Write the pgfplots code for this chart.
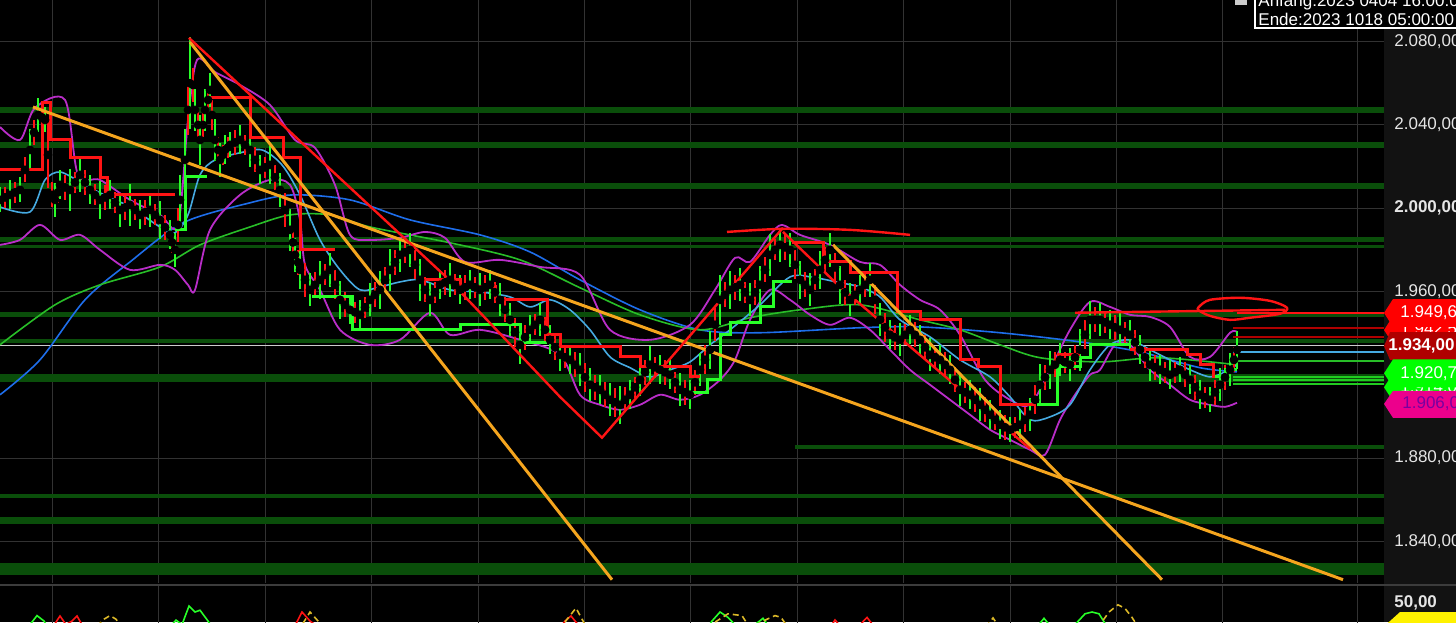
\documentclass[border=0pt]{standalone}
\usepackage{pgfplots}
\usepackage{pgfplotstable}
\pgfplotsset{compat=1.18}
\usepackage{fontspec}
\setmainfont{Liberation Sans}
\definecolor{bandgreen}{RGB}{10,78,10}
\definecolor{cgreen}{RGB}{40,255,40}
\definecolor{cred}{RGB}{255,20,20}
\definecolor{bbpurple}{RGB}{185,45,200}
\definecolor{mablue}{RGB}{30,110,235}
\definecolor{magreen}{RGB}{40,190,40}
\definecolor{macyan}{RGB}{70,170,225}
\definecolor{trorange}{RGB}{245,165,30}
\definecolor{gridgray}{RGB}{50,50,50}
\definecolor{labelbg}{RGB}{18,18,18}
\definecolor{darkred}{RGB}{176,0,0}
\definecolor{yel}{RGB}{220,185,40}
\definecolor{sepgray}{RGB}{60,60,60}
\definecolor{magtext}{RGB}{120,0,160}

\pgfplotstableread{
x y e
0 2004.0 6
10 2006.4 7
20 2008.8 6
30 2028.0 10
38 2044.8 8
45 2042.4 6
55 2004.0 8
60 2011.2 7
70 2008.8 10
80 2016.0 8
90 2008.8 7
100 2004.0 9
110 2006.4 7
120 1999.2 8
130 2001.6 10
140 1996.8 7
150 1999.2 8
160 1994.4 9
170 1987.2 7
175 1980.0 8
180 2004.0 12
185 2023.2 15
190 2060.0 22
195 2047.2 10
200 2032.8 12
205 2047.2 10
210 2056.8 8
215 2032.8 10
220 2023.2 8
225 2028.0 7
230 2030.4 6
240 2032.8 7
250 2028.0 8
260 2018.4 7
270 2020.8 9
280 2008.8 8
290 1989.6 10
295 1977.6 8
300 1970.4 9
310 1960.8 8
320 1965.6 9
330 1970.4 8
340 1956.0 9
350 1951.2 7
360 1948.8 7
370 1956.0 8
380 1960.8 9
390 1970.4 10
400 1977.6 8
410 1980.0 8
420 1965.6 10
430 1956.0 8
440 1963.2 7
450 1965.6 8
460 1960.8 7
470 1963.2 7
480 1960.8 8
490 1963.2 7
500 1956.0 8
510 1946.4 8
520 1934.4 9
530 1941.6 7
540 1946.4 8
550 1936.8 7
560 1929.6 8
570 1927.2 7
580 1922.4 8
590 1915.2 8
600 1912.8 7
610 1908.0 8
620 1905.6 9
630 1910.4 7
640 1917.6 8
650 1924.8 9
660 1922.4 7
670 1920.0 7
680 1912.8 8
690 1910.4 7
700 1922.4 8
710 1932.0 9
720 1956.0 12
730 1960.8 9
740 1963.2 8
750 1956.0 8
760 1963.2 9
770 1977.6 10
780 1982.4 8
790 1980.0 8
800 1965.6 9
810 1960.8 8
820 1970.4 9
830 1980.0 8
840 1963.2 9
850 1956.0 8
860 1960.8 7
870 1965.6 8
880 1946.4 8
890 1939.2 7
900 1936.8 8
910 1941.6 7
920 1936.8 7
930 1929.6 8
940 1927.2 7
950 1922.4 7
960 1912.8 8
970 1910.4 7
980 1905.6 8
990 1900.8 7
1000 1896.0 7
1010 1893.6 6
1020 1896.0 7
1030 1900.8 8
1040 1915.2 10
1050 1922.4 9
1060 1927.2 8
1070 1924.8 8
1080 1932.0 10
1090 1946.4 9
1100 1946.4 8
1110 1944.0 7
1120 1941.6 8
1130 1939.2 7
1140 1932.0 7
1150 1924.8 8
1160 1922.4 7
1170 1920.0 7
1180 1922.4 6
1190 1917.6 7
1200 1910.4 7
1210 1908.0 6
1220 1915.2 8
1230 1922.4 8
1237 1932.0 9
}\greencandles

\pgfplotstableread{
x y e
5 2005.2 5
15 2007.6 5
25 2018.4 6
34 2036.4 6
42 2043.6 5
48 2025.6 16
52 2006.4 6
58 2007.6 5
65 2010.0 6
75 2012.4 5
85 2012.4 6
95 2006.4 5
105 2005.2 6
115 2002.8 5
125 2000.4 6
135 1999.2 5
145 1998.0 6
155 1996.8 5
165 1990.8 6
172 1983.6 5
178 1992.0 8
188 2047.2 12
193 2059.2 8
198 2040.0 7
203 2040.0 6
208 2052.0 6
212 2044.8 7
218 2028.0 6
223 2025.6 5
228 2029.2 5
235 2031.6 6
245 2030.4 5
255 2023.2 6
265 2019.6 5
275 2014.8 6
285 1999.2 8
293 1983.6 6
298 1974.0 6
305 1965.6 8
315 1963.2 6
325 1968.0 5
335 1963.2 7
345 1953.6 6
355 1950.0 5
365 1952.4 5
375 1958.4 6
385 1965.6 6
395 1974.0 6
405 1978.8 5
415 1972.8 7
425 1960.8 6
435 1959.6 5
445 1964.4 6
455 1963.2 5
465 1962.0 6
475 1962.0 5
485 1962.0 6
495 1959.6 5
505 1951.2 6
515 1940.4 7
525 1938.0 6
535 1944.0 5
545 1941.6 6
555 1933.2 6
565 1928.4 5
575 1924.8 6
585 1918.8 7
595 1914.0 6
605 1910.4 6
615 1906.8 7
625 1908.0 6
635 1914.0 5
645 1921.2 6
655 1923.6 5
665 1921.2 6
675 1916.4 5
685 1911.6 6
695 1916.4 6
705 1927.2 7
715 1944.0 8
725 1958.4 6
735 1962.0 6
745 1959.6 5
755 1959.6 6
765 1970.4 6
775 1980.0 5
785 1981.2 6
795 1972.8 7
805 1963.2 6
815 1965.6 5
825 1975.2 6
835 1971.6 7
845 1959.6 6
855 1958.4 5
865 1963.2 6
875 1956.0 7
885 1942.8 7
895 1938.0 6
905 1939.2 5
915 1939.2 6
925 1933.2 6
935 1928.4 5
945 1924.8 6
955 1917.6 6
965 1911.6 5
975 1908.0 6
985 1903.2 6
995 1898.4 5
1005 1894.8 6
1015 1894.8 5
1025 1898.4 6
1035 1908.0 7
1045 1918.8 6
1055 1924.8 6
1065 1926.0 5
1075 1928.4 6
1085 1939.2 7
1095 1946.4 6
1105 1945.2 5
1115 1942.8 6
1125 1940.4 5
1135 1935.6 6
1145 1928.4 5
1155 1923.6 6
1165 1921.2 5
1175 1921.2 5
1185 1920.0 6
1195 1914.0 6
1205 1909.2 5
1215 1911.6 6
1225 1918.8 6
1234 1927.2 6
}\redcandles

\begin{document}
\begin{tikzpicture}
\path[use as bounding box] (0,0) rectangle (728pt,-311pt);
\fill[black] (0,0) rectangle (728pt,-311pt);
\fill[labelbg] (692pt,0) rectangle (728pt,-311pt);

\begin{axis}[
  at={(0pt,0pt)}, anchor=north west,
  width=692pt, height=291.5pt, scale only axis,
  xmin=0, xmax=1384, ymin=1820, ymax=2100,
  clip=false,
  axis line style={draw=none},
  major tick length=0pt,
  xtick={52,158,265,371,478,584,690,797,903,1010,1116,1222,1357},
  xticklabels={},
  ytick={1840,1880,1920,1960,2000,2040,2080},
  yticklabels={{1.840,00},{1.880,00},{},{1.960,00},{\bfseries 2.000,00},{2.040,00},{2.080,00}},
  yticklabel pos=right,
  yticklabel style={anchor=west, inner sep=0pt, xshift=5pt, text=white!90!black, font=\fontsize{8.5}{10}\selectfont},
  grid=major, grid style={gridgray, line width=0.5pt},
]
% support / resistance bands
\addplot[bandgreen, line width=3pt] coordinates {(0,2047.2)(1384,2047.2)};
\addplot[bandgreen, line width=3pt] coordinates {(0,2030.4)(1384,2030.4)};
\addplot[bandgreen, line width=3pt] coordinates {(0,2010.7)(1384,2010.7)};
\addplot[bandgreen, line width=2.5pt] coordinates {(0,1985.0)(1384,1985.0)};
\addplot[bandgreen, line width=1.5pt] coordinates {(0,1981.6)(1384,1981.6)};
\addplot[bandgreen, line width=2.5pt] coordinates {(0,1948.9)(1384,1948.9)};
\addplot[bandgreen, line width=2pt] coordinates {(0,1936.0)(1384,1936.0)};
\addplot[bandgreen, line width=4pt] coordinates {(0,1918.6)(1384,1918.6)};
\addplot[bandgreen, line width=2pt] coordinates {(795,1885.3)(1384,1885.3)};
\addplot[bandgreen, line width=2pt] coordinates {(0,1861.8)(1384,1861.8)};
\addplot[bandgreen, line width=3.5pt] coordinates {(0,1850.0)(1384,1850.0)};
\addplot[bandgreen, line width=6pt] coordinates {(0,1826.7)(1384,1826.7)};
% current price line
\addplot[white!80!black, line width=0.7pt] coordinates {(0,1934.0)(1384,1934.0)};

% moving averages
\addplot[mablue, line width=0.8pt, smooth] coordinates {(0,1910.4)(40,1927.2)(85,1956.0)(130,1974.2)(183,1993.0)(250,2002.6)(293,2006.4)(350,2004.0)(410,1994.4)(480,1987.2)(530,1979.0)(580,1965.6)(640,1951.2)(700,1941.6)(760,1940.2)(860,1942.6)(920,1943.0)(1000,1940.2)(1080,1935.8)(1140,1931.0)(1200,1923.4)(1237,1921.4)};
\addplot[magreen, line width=0.8pt, smooth] coordinates {(0,1934.4)(55,1953.6)(100,1963.2)(160,1971.8)(200,1982.4)(250,1991.0)(290,1996.8)(330,1996.8)(370,1991.0)(450,1983.4)(520,1975.2)(580,1961.8)(640,1948.8)(700,1941.6)(750,1947.4)(800,1951.2)(860,1953.6)(920,1946.4)(960,1941.6)(1000,1934.4)(1040,1928.2)(1100,1926.2)(1160,1928.2)(1237,1924.8)};
% Bollinger bands
\addplot[bbpurple, line width=0.9pt, smooth] coordinates {(0,2039.0)(20,2032.8)(35,2048.2)(65,2052.0)(78,2016.0)(100,2013.6)(130,2004.0)(160,1996.8)(178,1992.0)(188,2042.4)(197,2071.2)(215,2065.4)(240,2059.2)(270,2049.6)(295,2032.8)(315,2029.0)(335,2011.2)(350,1987.2)(370,1984.8)(400,1985.8)(425,1988.6)(445,1985.8)(465,1974.2)(500,1975.2)(540,1971.8)(580,1968.0)(610,1941.6)(650,1936.8)(690,1944.0)(715,1960.8)(735,1976.2)(750,1974.2)(770,1987.2)(782,1992.0)(800,1987.2)(830,1982.4)(860,1974.2)(880,1972.8)(900,1963.2)(920,1956.0)(940,1951.2)(960,1939.2)(985,1917.6)(1010,1908.0)(1030,1905.6)(1050,1922.4)(1070,1941.6)(1090,1955.0)(1110,1952.6)(1130,1948.8)(1150,1947.8)(1170,1943.0)(1190,1928.6)(1210,1928.6)(1230,1940.2)(1237,1940.6)};
\addplot[bbpurple, line width=0.9pt, smooth] coordinates {(0,1982.4)(20,1984.8)(40,1992.0)(60,1984.8)(80,1987.2)(100,1980.0)(130,1970.4)(160,1972.8)(175,1970.4)(188,1963.2)(195,1960.8)(210,1989.6)(240,2006.4)(270,2013.6)(290,2011.2)(300,1994.4)(305,1972.8)(320,1960.8)(340,1941.6)(370,1934.4)(400,1936.8)(430,1949.8)(450,1939.2)(480,1941.6)(520,1936.8)(560,1929.6)(580,1910.4)(600,1905.6)(620,1903.2)(640,1905.6)(660,1910.4)(680,1908.0)(700,1910.4)(720,1917.6)(735,1927.2)(750,1946.4)(770,1960.8)(790,1956.0)(810,1948.8)(830,1944.0)(850,1947.4)(870,1941.6)(890,1932.0)(910,1922.4)(930,1915.2)(950,1908.0)(970,1900.8)(990,1893.6)(1010,1888.8)(1030,1884.0)(1045,1881.6)(1060,1898.4)(1075,1910.4)(1090,1920.0)(1100,1922.4)(1115,1934.4)(1130,1934.4)(1150,1922.4)(1170,1915.2)(1190,1908.0)(1210,1905.6)(1225,1904.6)(1237,1906.6)};
% fast MA
\addplot[macyan, line width=0.8pt, smooth] coordinates {(0,2000.6)(30,1998.2)(45,2013.6)(60,2017.4)(80,2012.6)(100,2007.4)(130,2000.6)(160,1991.0)(175,1988.2)(188,1996.8)(200,2016.0)(215,2023.2)(240,2026.6)(262,2028.0)(282,2020.8)(300,2006.4)(320,1984.8)(340,1970.4)(360,1960.8)(380,1962.2)(400,1964.6)(420,1965.6)(450,1960.8)(480,1959.8)(510,1957.4)(530,1952.6)(550,1956.0)(570,1951.2)(590,1941.6)(610,1928.6)(630,1923.4)(650,1919.0)(670,1922.4)(690,1926.2)(710,1934.4)(730,1941.6)(760,1953.6)(790,1967.0)(815,1966.6)(840,1964.2)(860,1962.2)(880,1957.4)(900,1946.4)(930,1938.2)(960,1927.2)(990,1919.0)(1010,1909.4)(1030,1898.4)(1050,1899.8)(1070,1905.6)(1090,1922.4)(1110,1934.4)(1130,1936.8)(1150,1932.0)(1170,1927.2)(1190,1922.4)(1210,1919.0)(1225,1921.4)(1237,1924.8)};

% candles
\addplot[only marks, mark=none, error bars/.cd, y dir=both, y explicit, error mark=none, error bar style={draw=cred, line width=0.75pt}] table[x=x, y=y, y error=e] {\redcandles};
\addplot[only marks, mark=none, error bars/.cd, y dir=both, y explicit, error mark=none, error bar style={draw=cgreen, line width=0.75pt}] table[x=x, y=y, y error=e] {\greencandles};

% step lines
\addplot[cred, line width=1.5pt, const plot] coordinates {(0,2018.4)(42,2051.0)(50,2032.8)(70,2024.2)(100,2014.6)(107,2006.4)(175,2006.4)};
\addplot[cgreen, line width=1.5pt, const plot] coordinates {(175,1989.6)(185,2015.0)(207,2015.0)};
\addplot[cred, line width=1.5pt, const plot] coordinates {(207,2053.0)(250,2033.8)(283,2024.2)(300,1980.0)(335,1980.0)};
\addplot[cgreen, line width=1.5pt, const plot] coordinates {(312,1957.4)(352,1941.6)(460,1944.0)(520,1935.4)(547,1935.4)};
\addplot[cred, line width=1.5pt, const plot] coordinates {(420,1965.6)(460,1962.2)(495,1956.0)(547,1939.2)(560,1933.4)(620,1928.6)(640,1923.8)(690,1919.0)(700,1919.0)};
\addplot[cgreen, line width=1.5pt, const plot] coordinates {(687,1911.4)(707,1917.6)(720,1939.2)(730,1945.0)(760,1952.6)(773,1964.6)(792,1964.6)};
\addplot[cred, line width=1.5pt, const plot] coordinates {(792,1983.4)(823,1974.2)(850,1969.0)(897,1950.2)(920,1946.4)(960,1927.2)(978,1923.8)(1000,1905.6)(1035,1905.6)};
\addplot[cgreen, line width=1.5pt, const plot] coordinates {(1037,1905.6)(1057,1923.8)(1080,1928.2)(1090,1934.4)(1130,1934.4)};
\addplot[cred, line width=1.5pt, const plot] coordinates {(1057,1929.6)(1080,1929.6)};
\addplot[cred, line width=1.5pt, const plot] coordinates {(1130,1932.0)(1187,1929.6)(1200,1924.8)(1213,1919.0)(1220,1919.0)};
\addplot[cgreen, line width=1.5pt, const plot] coordinates {(1215,1919.0)(1225,1922.4)(1237,1922.4)};

% trend lines
\addplot[trorange, line width=1.5pt] coordinates {(33,2048.6)(1343,1821.6)};
\addplot[trorange, line width=1.5pt] coordinates {(190,2079.8)(612,1821.6)};
\addplot[trorange, line width=1.5pt] coordinates {(833,1982.4)(1162,1821.6)};
\addplot[cred, line width=1.2pt] coordinates {(189,2081.8)(447,1966.6)(560,1909.4)(602,1889.8)(783,1990.6)};
\addplot[cred, line width=1.2pt] coordinates {(783,1988.6)(840,1962.2)(1030,1884.5)};
\addplot[cred, line width=1.2pt, smooth] coordinates {(727,1988.6)(783,1990.1)(850,1989.6)(910,1987.2)};
\addplot[cred, line width=1.2pt] coordinates {(1075,1949.8)(1285,1951.2)};
\addplot[cred, line width=1.2pt, smooth] coordinates {(1200,1953.1)(1210,1956.0)(1240,1957.0)(1270,1955.5)(1287,1952.2)(1280,1949.3)(1250,1947.4)(1230,1946.4)(1210,1948.3)(1198,1951.2)(1200,1953.1)};

% current levels at right
\addplot[cred, line width=1pt] coordinates {(1237,1949.6)(1384,1949.6)};
\addplot[darkred, line width=1pt] coordinates {(1233,1942.6)(1384,1942.6)};
\addplot[darkred, line width=1pt] coordinates {(1233,1938.2)(1384,1938.2)};
\addplot[macyan, line width=1pt] coordinates {(1233,1931.0)(1384,1931.0)};
\addplot[magreen, line width=1pt] coordinates {(1233,1926.6)(1384,1926.6)};
\addplot[cgreen!80!black, line width=1pt] coordinates {(1233,1919.0)(1384,1919.0)};
\addplot[cgreen!80!black, line width=1pt] coordinates {(1233,1917.6)(1384,1917.6)};
\addplot[cgreen!80!black, line width=1pt] coordinates {(1233,1915.6)(1384,1915.6)};

% price labels on the right
\fill[red] (axis cs:1384,1941.5) -- (axis cs:1393,1948.2) -- (axis cs:1470,1948.2) -- (axis cs:1470,1934.8) -- (axis cs:1393,1934.8) -- cycle;
\node[anchor=west, inner sep=0pt, text=white, font=\fontsize{8.5}{10}\selectfont] at (axis cs:1400,1941.5) {1.942,5};
\fill[red] (axis cs:1384,1949.7) -- (axis cs:1393,1956.4) -- (axis cs:1470,1956.4) -- (axis cs:1470,1943.0) -- (axis cs:1393,1943.0) -- cycle;
\node[anchor=west, inner sep=0pt, text=white, font=\fontsize{8.5}{10}\selectfont] at (axis cs:1400,1949.7) {1.949,6};
\fill[darkred] (axis cs:1384,1933.8) -- (axis cs:1390,1940.5) -- (axis cs:1470,1940.5) -- (axis cs:1470,1927.1) -- (axis cs:1390,1927.1) -- cycle;
\node[anchor=west, inner sep=0pt, text=white, font=\fontsize{8.5}{10}\selectfont\bfseries] at (axis cs:1388,1933.8) {1.934,00};
\fill[green] (axis cs:1384,1914.0) -- (axis cs:1393,1920.7) -- (axis cs:1470,1920.7) -- (axis cs:1470,1907.3) -- (axis cs:1393,1907.3) -- cycle;
\node[anchor=west, inner sep=0pt, text=white, font=\fontsize{8.5}{10}\selectfont] at (axis cs:1400,1914.0) {1.914,0};
\fill[green] (axis cs:1384,1920.7) -- (axis cs:1393,1927.4) -- (axis cs:1470,1927.4) -- (axis cs:1470,1914.0) -- (axis cs:1393,1914.0) -- cycle;
\node[anchor=west, inner sep=0pt, text=white, font=\fontsize{8.5}{10}\selectfont] at (axis cs:1400,1920.7) {1.920,7};
\fill[magenta] (axis cs:1384,1906.0) -- (axis cs:1393,1912.3) -- (axis cs:1470,1912.3) -- (axis cs:1470,1899.3) -- (axis cs:1393,1899.3) -- cycle;
\node[anchor=west, inner sep=0pt, text=magtext, font=\fontsize{8.5}{10}\selectfont] at (axis cs:1402,1906.0) {1.906,0};
\end{axis}

% lower indicator panel
\begin{axis}[
  at={(0pt,-292.5pt)}, anchor=north west,
  width=692pt, height=45pt, scale only axis,
  xmin=0, xmax=1384, ymin=10, ymax=60,
  clip=false,
  axis line style={draw=none},
  major tick length=0pt,
  xtick={52,158,265,371,478,584,690,797,903,1010,1116,1222,1357},
  xticklabels={},
  ytick={50,60}, yticklabels={{\bfseries 50,00},{}},
  yticklabel pos=right,
  yticklabel style={anchor=west, inner sep=0pt, xshift=5pt, text=white!90!black, font=\fontsize{8.5}{10}\selectfont},
  xmajorgrids=true, ymajorgrids=false, grid style={gridgray, line width=0.5pt},
]
\addplot[sepgray, line width=1.2pt] coordinates {(0,60)(1456,60)};
\addplot[cgreen, line width=0.8pt] coordinates {(0,30)(30,38)(37,43)(44,40)(55,30)(160,30)(172,38)(176,40.5)(182,38)(189,48.3)(195,45)(200,46)(208,40)(220,30)(700,30)(712,40)(720,45)(728,42)(740,35)(755,38)(763,41.5)(770,36)(1030,32)(1044,41.5)(1052,36)(1075,38)(1085,44)(1092,45)(1099,44)(1108,36)(1237,30)};
\addplot[cred, line width=0.8pt] coordinates {(0,30)(52,36)(60,42.8)(66,38)(72,40)(77,42.8)(84,36)(95,30)(290,32)(302,45)(310,40)(320,36)(330,30)(555,32)(565,40)(571,42.8)(578,38)(590,30)(825,32)(835,40.6)(842,36)(855,35)(867,42)(874,37)(885,30)(1237,30)};
\addplot[yel, line width=0.8pt, dash pattern=on 3pt off 2pt] coordinates {(90,33)(104,41)(110,43)(116,41)(125,34)(300,36)(310,45)(318,40)(325,35)(560,36)(576,47.2)(585,38)(700,34)(728,44)(742,43)(750,36)(767,41)(775,43)(781,42)(790,35)(985,36)(993,41.7)(1000,36)(1100,38)(1109,45)(1118,49)(1125,47)(1132,42)(1140,35)(1237,34)};
\fill[yellow] (axis cs:1384,37) -- (axis cs:1400,45) -- (axis cs:1470,45) -- (axis cs:1470,29) -- (axis cs:1400,29) -- cycle;
\end{axis}

% info box top right
\draw[white, fill=black, line width=0.6pt] (627.5pt,5pt) rectangle (740pt,-14pt);
\node[anchor=west, inner sep=0pt, text=white, font=\fontsize{8.5}{10}\selectfont] at (629pt,-1pt) {Anfang:2023 0404 16:00:00};
\node[anchor=west, inner sep=0pt, text=white, font=\fontsize{8.5}{10}\selectfont] at (629pt,-9.5pt) {Ende:2023 1018 05:00:00};
\fill[white!80!black] (617.5pt,0pt) rectangle (623.5pt,-2.5pt);
\end{tikzpicture}
\end{document}
